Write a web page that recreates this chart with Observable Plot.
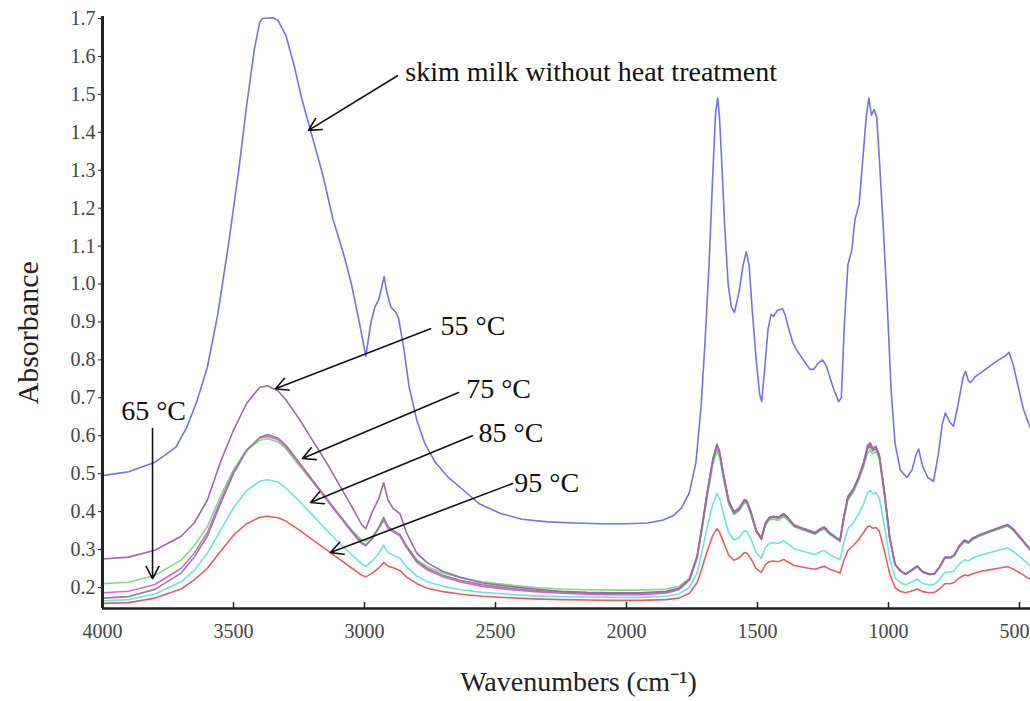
<!DOCTYPE html>
<html>
<head>
<meta charset="utf-8">
<script src="https://cdn.jsdelivr.net/npm/d3@7"></script>
<script src="https://cdn.jsdelivr.net/npm/@observablehq/plot@0.6"></script>
<style>
  html, body { margin: 0; padding: 0; background: #fff; }
  #chart { width: 1030px; height: 701px; }
</style>
</head>
<body>
<div id="chart"></div>
<script>
// ---- tick labels ----
const xTicks = [4000, 3500, 3000, 2500, 2000, 1500, 1000, 500];
const yTicks = [0.2, 0.3, 0.4, 0.5, 0.6, 0.7, 0.8, 0.9, 1.0, 1.1, 1.2, 1.3, 1.4, 1.5, 1.6, 1.7];

// ---- series: [wavenumber (cm-1), absorbance] ----
const skim = [[4000,.495],[3900,.505],[3800,.53],[3720,.57],[3680,.62],[3640,.69],[3600,.78],[3560,.92],[3520,1.10],[3480,1.30],[3450,1.47],[3420,1.62],[3400,1.69],[3390,1.70],[3350,1.702],[3330,1.695],[3300,1.655],[3270,1.58],[3240,1.49],[3200,1.39],[3160,1.29],[3120,1.17],[3080,1.08],[3050,1.00],[3020,0.90],[2995,0.81],[2975,0.90],[2960,0.94],[2945,0.96],[2935,0.99],[2925,1.02],[2915,0.98],[2900,0.94],[2880,0.925],[2870,0.91],[2850,0.83],[2830,0.73],[2800,0.64],[2770,0.58],[2730,0.53],[2680,0.49],[2620,0.455],[2560,0.42],[2480,0.395],[2400,0.38],[2300,0.373],[2200,0.37],[2100,0.368],[2000,0.368],[1920,0.37],[1860,0.378],[1820,0.39],[1790,0.41],[1760,0.45],[1735,0.53],[1715,0.68],[1700,0.85],[1685,1.05],[1670,1.30],[1660,1.45],[1652,1.49],[1645,1.44],[1635,1.30],[1625,1.15],[1612,1.00],[1600,0.94],[1588,0.925],[1570,0.98],[1555,1.05],[1543,1.085],[1532,1.05],[1520,0.93],[1505,0.80],[1492,0.71],[1484,0.69],[1472,0.78],[1460,0.88],[1448,0.92],[1438,0.915],[1425,0.93],[1405,0.935],[1395,0.92],[1380,0.88],[1365,0.845],[1345,0.82],[1325,0.80],[1300,0.775],[1285,0.775],[1270,0.79],[1252,0.80],[1238,0.785],[1222,0.75],[1205,0.715],[1190,0.69],[1180,0.70],[1168,0.90],[1155,1.05],[1140,1.09],[1128,1.17],[1112,1.21],[1098,1.33],[1085,1.44],[1075,1.49],[1065,1.445],[1055,1.46],[1045,1.44],[1035,1.33],[1020,1.15],[1005,0.95],[990,0.72],[975,0.58],[955,0.51],[930,0.49],[910,0.51],[895,0.55],[885,0.565],[870,0.52],[850,0.49],[828,0.48],[810,0.55],[795,0.63],[783,0.66],[765,0.635],[752,0.625],[735,0.68],[715,0.755],[706,0.77],[695,0.745],[687,0.74],[670,0.755],[640,0.77],[610,0.785],[580,0.80],[555,0.81],[540,0.82],[525,0.79],[505,0.73],[485,0.67],[458,0.62]];

const t55 = [[4000,.275],[3900,.28],[3800,.298],[3700,.335],[3650,.37],[3600,.43],[3550,.53],[3500,.615],[3450,.685],[3400,.728],[3370,.732],[3330,.718],[3300,.695],[3250,.645],[3200,.59],[3150,.535],[3100,.475],[3050,.415],[3010,.365],[2995,.355],[2970,.40],[2945,.435],[2927,.476],[2910,.43],[2890,.408],[2865,.395],[2840,.345],[2800,.29],[2760,.265],[2700,.242],[2630,.226],[2550,.212],[2450,.203],[2350,.196],[2250,.19],[2150,.187],[2050,.186],[1950,.186],[1850,.19],[1800,.198],[1760,.222],[1730,.285],[1710,.37],[1690,.46],[1670,.54],[1655,.578],[1645,.56],[1630,.50],[1610,.43],[1590,.40],[1570,.41],[1550,.432],[1540,.428],[1525,.40],[1505,.352],[1485,.33],[1470,.37],[1455,.385],[1440,.388],[1420,.385],[1400,.395],[1385,.385],[1360,.365],[1330,.357],[1300,.35],[1280,.345],[1260,.355],[1245,.36],[1225,.345],[1200,.332],[1185,.325],[1170,.39],[1155,.44],[1135,.46],[1115,.49],[1095,.53],[1080,.57],[1070,.578],[1060,.565],[1048,.572],[1035,.55],[1015,.45],[995,.33],[975,.262],[955,.245],[935,.236],[915,.245],[890,.257],[870,.242],[845,.236],[825,.237],[805,.255],[785,.28],[765,.28],[750,.285],[730,.31],[710,.325],[695,.32],[680,.33],[650,.34],[610,.35],[570,.36],[545,.366],[525,.355],[500,.335],[470,.31],[458,.30]];

const t65 = [[4000,.21],[3900,.214],[3800,.232],[3700,.272],[3650,.31],[3600,.36],[3550,.44],[3500,.51],[3450,.563],[3400,.588],[3370,.592],[3330,.584],[3300,.566],[3250,.522],[3200,.48],[3150,.435],[3100,.392],[3050,.352],[3010,.325],[2995,.322],[2970,.335],[2945,.355],[2927,.376],[2910,.355],[2890,.347],[2865,.338],[2840,.31],[2800,.273],[2760,.255],[2700,.238],[2630,.225],[2550,.215],[2450,.207],[2350,.2],[2250,.196],[2150,.194],[2050,.193],[1950,.193],[1850,.196],[1800,.203],[1760,.224],[1730,.282],[1710,.36],[1690,.447],[1670,.525],[1655,.56],[1645,.545],[1630,.487],[1610,.42],[1590,.392],[1570,.402],[1550,.423],[1540,.42],[1525,.392],[1505,.347],[1485,.327],[1470,.363],[1455,.378],[1440,.38],[1420,.377],[1400,.387],[1385,.378],[1360,.36],[1330,.352],[1300,.345],[1280,.34],[1260,.35],[1245,.354],[1225,.34],[1200,.328],[1185,.321],[1170,.38],[1155,.43],[1135,.45],[1115,.48],[1095,.518],[1080,.555],[1070,.562],[1060,.552],[1048,.558],[1035,.538],[1015,.44],[995,.326],[975,.26],[955,.244],[935,.236],[915,.244],[890,.255],[870,.241],[845,.235],[825,.236],[805,.253],[785,.277],[765,.277],[750,.282],[730,.306],[710,.32],[695,.316],[680,.326],[650,.336],[610,.346],[570,.356],[545,.362],[525,.351],[500,.331],[470,.307],[458,.297]];

const t75 = [[4000,.172],[3900,.176],[3800,.195],[3700,.238],[3650,.28],[3600,.335],[3550,.42],[3500,.50],[3450,.56],[3400,.596],[3370,.603],[3330,.594],[3300,.575],[3250,.53],[3200,.485],[3150,.44],[3100,.395],[3050,.35],[3010,.318],[2995,.312],[2970,.33],[2945,.36],[2927,.385],[2910,.36],[2890,.35],[2865,.34],[2840,.31],[2800,.27],[2760,.25],[2700,.232],[2630,.218],[2550,.207],[2450,.198],[2350,.192],[2250,.188],[2150,.185],[2050,.184],[1950,.184],[1850,.188],[1800,.196],[1760,.22],[1730,.28],[1710,.365],[1690,.455],[1670,.535],[1655,.572],[1645,.555],[1630,.495],[1610,.425],[1590,.395],[1570,.405],[1550,.428],[1540,.424],[1525,.395],[1505,.348],[1485,.327],[1470,.366],[1455,.382],[1440,.385],[1420,.382],[1400,.392],[1385,.382],[1360,.362],[1330,.354],[1300,.347],[1280,.342],[1260,.352],[1245,.357],[1225,.342],[1200,.33],[1185,.322],[1170,.385],[1155,.435],[1135,.455],[1115,.485],[1095,.525],[1080,.565],[1070,.572],[1060,.56],[1048,.566],[1035,.545],[1015,.445],[995,.328],[975,.26],[955,.243],[935,.234],[915,.243],[890,.255],[870,.24],[845,.234],[825,.235],[805,.253],[785,.278],[765,.278],[750,.283],[730,.308],[710,.322],[695,.318],[680,.328],[650,.338],[610,.348],[570,.358],[545,.364],[525,.353],[500,.333],[470,.308],[458,.298]];

const tMagenta = [[4000,.186],[3900,.19],[3800,.208],[3700,.25],[3650,.29],[3600,.345],[3550,.428],[3500,.505],[3450,.562],[3400,.594],[3370,.598],[3330,.59],[3300,.571],[3250,.527],[3200,.482],[3150,.437],[3100,.392],[3050,.347],[3010,.315],[2995,.31],[2970,.328],[2945,.357],[2927,.38],[2910,.357],[2890,.347],[2865,.336],[2840,.305],[2800,.266],[2760,.246],[2700,.228],[2630,.214],[2550,.203],[2450,.195],[2350,.189],[2250,.185],[2150,.182],[2050,.181],[1950,.181],[1850,.185],[1800,.194],[1760,.219],[1730,.28],[1710,.367],[1690,.458],[1670,.538],[1655,.575],[1645,.558],[1630,.498],[1610,.428],[1590,.398],[1570,.408],[1550,.43],[1540,.426],[1525,.398],[1505,.35],[1485,.329],[1470,.368],[1455,.384],[1440,.387],[1420,.384],[1400,.394],[1385,.384],[1360,.364],[1330,.356],[1300,.349],[1280,.344],[1260,.354],[1245,.359],[1225,.344],[1200,.331],[1185,.324],[1170,.388],[1155,.438],[1135,.458],[1115,.488],[1095,.528],[1080,.575],[1070,.582],[1060,.568],[1048,.57],[1035,.548],[1015,.448],[995,.33],[975,.261],[955,.244],[935,.235],[915,.244],[890,.256],[870,.241],[845,.235],[825,.236],[805,.254],[785,.279],[765,.279],[750,.284],[730,.309],[710,.324],[695,.319],[680,.329],[650,.339],[610,.349],[570,.359],[545,.365],[525,.354],[500,.334],[470,.309],[458,.299]];

const t85 = [[4000,.165],[3900,.168],[3800,.183],[3700,.215],[3650,.245],[3600,.29],[3550,.35],[3500,.41],[3450,.455],[3400,.48],[3370,.484],[3330,.478],[3300,.462],[3250,.428],[3200,.392],[3150,.355],[3100,.32],[3050,.287],[3010,.262],[2995,.256],[2970,.27],[2945,.29],[2927,.312],[2910,.292],[2890,.285],[2865,.277],[2840,.255],[2800,.23],[2760,.215],[2700,.203],[2630,.194],[2550,.187],[2450,.182],[2350,.178],[2250,.176],[2150,.175],[2050,.174],[1950,.174],[1850,.177],[1800,.183],[1760,.2],[1730,.24],[1710,.3],[1690,.365],[1670,.42],[1655,.448],[1645,.435],[1630,.395],[1610,.345],[1590,.325],[1570,.332],[1550,.35],[1540,.347],[1525,.327],[1505,.292],[1485,.277],[1470,.305],[1455,.316],[1440,.318],[1420,.316],[1400,.323],[1385,.316],[1360,.302],[1330,.296],[1300,.29],[1280,.287],[1260,.294],[1245,.298],[1225,.287],[1200,.278],[1185,.273],[1170,.32],[1155,.355],[1135,.37],[1115,.392],[1095,.42],[1080,.45],[1070,.456],[1060,.447],[1048,.45],[1035,.435],[1015,.36],[995,.275],[975,.225],[955,.213],[935,.207],[915,.213],[890,.222],[870,.211],[845,.207],[825,.208],[805,.221],[785,.24],[765,.24],[750,.244],[730,.262],[710,.273],[695,.27],[680,.277],[650,.285],[610,.292],[570,.3],[545,.304],[525,.296],[500,.282],[470,.264],[458,.257]];

const t95 = [[4000,.158],[3900,.16],[3800,.172],[3700,.196],[3650,.22],[3600,.25],[3550,.295],[3500,.338],[3450,.368],[3400,.385],[3370,.388],[3330,.384],[3300,.375],[3250,.352],[3200,.327],[3150,.302],[3100,.277],[3050,.252],[3010,.232],[2995,.228],[2970,.238],[2945,.252],[2927,.266],[2910,.256],[2890,.252],[2865,.245],[2840,.228],[2800,.21],[2760,.198],[2700,.189],[2630,.182],[2550,.177],[2450,.173],[2350,.17],[2250,.168],[2150,.167],[2050,.166],[1950,.166],[1850,.168],[1800,.172],[1760,.185],[1730,.213],[1710,.255],[1690,.3],[1670,.338],[1655,.355],[1645,.346],[1630,.32],[1610,.285],[1590,.272],[1570,.278],[1550,.292],[1540,.29],[1525,.276],[1505,.25],[1485,.24],[1470,.26],[1455,.268],[1440,.27],[1420,.268],[1400,.274],[1385,.268],[1360,.258],[1330,.254],[1300,.25],[1280,.248],[1260,.253],[1245,.256],[1225,.248],[1200,.242],[1185,.238],[1170,.272],[1155,.297],[1135,.31],[1115,.325],[1095,.345],[1080,.36],[1070,.362],[1060,.356],[1048,.358],[1035,.348],[1015,.295],[995,.235],[975,.2],[955,.19],[935,.186],[915,.19],[890,.196],[870,.189],[845,.186],[825,.187],[805,.196],[785,.21],[765,.21],[750,.213],[730,.225],[710,.233],[695,.231],[680,.236],[650,.242],[610,.247],[570,.252],[545,.255],[525,.249],[500,.239],[470,.226],[458,.222]];

// series names and colours (drawn in this order)
const seriesNames  = ["skim", "95 °C", "85 °C", "65 °C", "magenta", "75 °C", "55 °C"];
const seriesData   = [skim, t95, t85, t65, tMagenta, t75, t55];
const seriesColors = ["#7373e2", "#e85e5e", "#6ee3e0", "#86d886", "#dc62dc", "#8c8590", "#9a6aa6"];

// ---- annotations (data coordinates) ----
const noteText  = ["skim milk without heat treatment", "55 °C", "75 °C", "85 °C", "95 °C"];
const noteX     = [2844, 2710, 2612, 2565, 2428];
const noteY     = [1.558, 0.890, 0.724, 0.606, 0.476];
const arrowX1   = [2874, 2748, 2641, 2588, 2435, 3809];
const arrowY1   = [1.549, 0.882, 0.714, 0.600, 0.474, 0.619];
const arrowX2   = [3214, 3340, 3237, 3206, 3130, 3809];
const arrowY2   = [1.405, 0.724, 0.540, 0.424, 0.292, 0.223];
const note65    = {text: "65 °C", x: 3805, y: 0.666};

const xDomain = [4000, 458];
const yDomain = [0.1446, 1.7053];

const rows = seriesData.flatMap((d, i) => d.map(([w, a]) => ({w, a, s: seriesNames[i]})));
const notes = noteText.map((t, i) => ({t, x: noteX[i], y: noteY[i]}));
const arrows = arrowX1.map((x1, i) => ({x1, y1: arrowY1[i], x2: arrowX2[i], y2: arrowY2[i]}));

const serif = "'Liberation Serif', 'Times New Roman', serif";

const chart = Plot.plot({
  width: 1030,
  height: 701,
  marginLeft: 102,
  marginRight: 0,
  marginTop: 16,
  marginBottom: 93,
  style: {fontFamily: serif, fontSize: "20px", background: "#fff", color: "#333"},
  x: {domain: xDomain, axis: null},
  y: {domain: yDomain},
  color: {domain: seriesNames, range: seriesColors},
  marks: [
    Plot.lineY(rows, {x: "w", y: "a", z: "s", stroke: "s", strokeWidth: 1.6, curve: "linear"}),
    Plot.ruleX([xDomain[0]], {stroke: "#222", strokeWidth: 3}),
    Plot.ruleY([yDomain[0]], {stroke: "#222", strokeWidth: 2.5}),
    Plot.axisY({ticks: yTicks, tickFormat: d => d.toFixed(1), tickSize: 4, tickPadding: 3, fontSize: 20, label: null, stroke: "#222", fill: "#444"}),
    // x tick marks point inward, labels below
    Plot.ruleX(xTicks, {x: d => d, y1: yDomain[0], y2: yDomain[0] + 0.016, stroke: "#222", strokeWidth: 1.5}),
    Plot.text(xTicks.slice(0, -1), {x: d => d, text: d => String(d), frameAnchor: "bottom", lineAnchor: "top", dy: 15, fontSize: 20, fill: "#444"}),
    Plot.text(xTicks.slice(-1), {x: d => d, text: d => String(d), frameAnchor: "bottom", lineAnchor: "top", dy: 15, dx: 10, textAnchor: "end", fontSize: 20, fill: "#444"}),
    Plot.text(["Absorbance"], {frameAnchor: "left", dx: -74, dy: 92, rotate: -90, fontSize: 30, fill: "#222"}),
    Plot.text(["Wavenumbers (cm⁻¹)"], {frameAnchor: "bottom", dx: 12, dy: 82, fontSize: 28, fill: "#222"}),
    Plot.arrow(arrows, {x1: "x1", y1: "y1", x2: "x2", y2: "y2", stroke: "#111", strokeWidth: 1.6, headLength: 13, headAngle: 55}),
    Plot.text(notes, {x: "x", y: "y", text: "t", textAnchor: "start", fontSize: 28, fill: "#111"}),
    Plot.text([note65], {x: "x", y: "y", text: "text", textAnchor: "middle", fontSize: 28, fill: "#111"})
  ]
});

document.getElementById("chart").appendChild(chart);
</script>
</body>
</html>
